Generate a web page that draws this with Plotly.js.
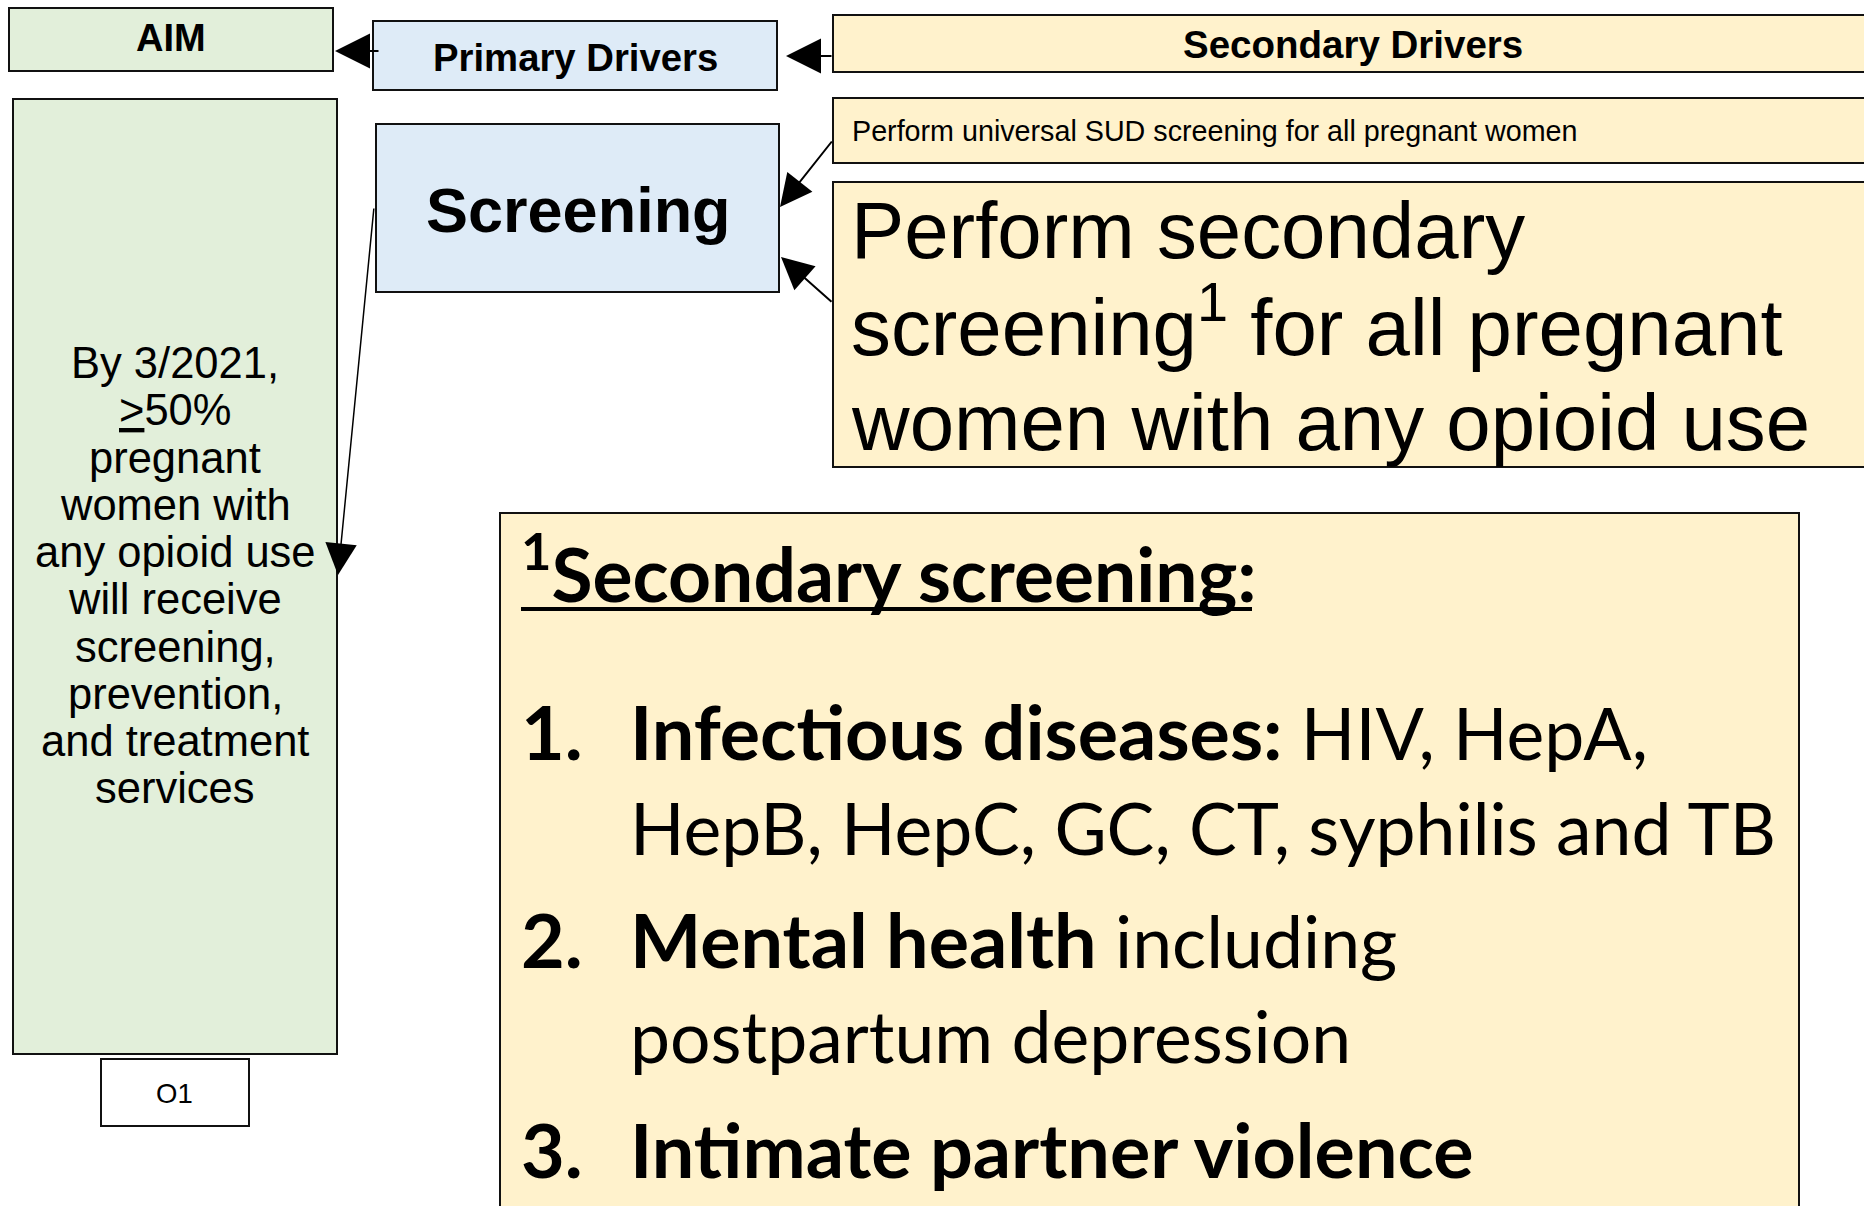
<!DOCTYPE html>
<html>
<head>
<meta charset="utf-8">
<script src="https://cdn.plot.ly/plotly-3.0.1.min.js"></script>
<style>
  html, body { margin: 0; padding: 0; background: #ffffff; }
  #chart { width: 1864px; height: 1206px; }
</style>
</head>
<body>
<div id="chart"></div>
<script>
// ---------- content (text) ----------
const aimTitle = 'AIM';
const primaryTitle = 'Primary Drivers';
const secondaryTitle = 'Secondary Drivers';
const aimLines = ['By 3/2021,', '<u>&gt;</u>50%', 'pregnant', 'women with', 'any opioid use',
                  'will receive', 'screening,', 'prevention,', 'and treatment', 'services'];
const outcomeLabel = 'O1';
const primaryDrivers = ['Screening'];
const secondaryDriver1 = ['Perform universal SUD screening for all pregnant women'];
const secondaryDriver2Lines = ['Perform secondary', 'screening<sup>1</sup> for all pregnant', 'women with any opioid use'];
const footnoteTitle = '<sup>1</sup>Secondary screening:';
const footnoteNumbers = ['1.', '', '2.', '', '3.'];
const footnoteBold = ['Infectious diseases:', '', 'Mental health', '', 'Intimate partner violence'];
const footnoteRegular = [' HIV, HepA,', 'HepB, HepC, GC, CT, syphilis and TB', ' including', 'postpartum depression', ''];

// ---------- styling / geometry ----------
const GREEN = '#E2EFDA', BLUE = '#DEEBF7', YELLOW = '#FFF2CC';
const ARIAL = 'Liberation Sans, Arial, Helvetica, sans-serif';
const CALIBRI = 'Lato, Carlito, Calibri, sans-serif';
const NOTE_REG = 71.5, NOTE_BOLD = 75.5;

const boxGeom = {
  aimHead:  [9, 8, 333, 71, GREEN],
  aimBody:  [13, 99, 337, 1054, GREEN],
  outcome:  [101, 1059, 249, 1126, '#ffffff'],
  primHead: [373, 21, 777, 90, BLUE],
  prim1:    [376, 124, 779, 292, BLUE],
  secHead:  [833, 15, 1900, 72, YELLOW],
  sec1:     [833, 98, 1900, 163, YELLOW],
  sec2:     [833, 182, 1900, 467, YELLOW],
  note:     [500, 513, 1799, 1260, YELLOW]
};

const shapes = Object.values(boxGeom).map(b => ({
  type: 'rect', xref: 'x', yref: 'y', x0: b[0], y0: b[1], x1: b[2], y1: b[3],
  fillcolor: b[4], line: {color: '#111111', width: 2}, layer: 'below'
}));
// underline of footnote title
shapes.push({type: 'line', xref: 'x', yref: 'y', x0: 521, x1: 1252, y0: 609, y1: 609,
             line: {color: '#000000', width: 4}});

const annotations = [];
function txt(text, x, y, size, opts) {
  opts = opts || {};
  annotations.push({
    text: text, x: x, y: y, xref: 'x', yref: 'y', showarrow: false,
    xanchor: opts.xanchor || 'center', yanchor: 'middle', align: opts.xanchor || 'center',
    font: {family: opts.family || ARIAL, size: size, color: '#000000'}
  });
}
function arrow(tx, ty, hx, hy, w, s) {
  annotations.push({
    text: '', x: hx, y: hy, ax: tx, ay: ty, xref: 'x', yref: 'y', axref: 'x', ayref: 'y',
    showarrow: true, arrowhead: 2, arrowsize: s, arrowwidth: w, arrowcolor: '#000000', standoff: 0
  });
}
function boldSpan(t) {
  return '<b><span style="font-size:' + NOTE_BOLD + 'px">' + t + '</span></b>';
}

// headers
txt('<b>' + aimTitle + '</b>', 171, 38, 38);
txt('<b>' + primaryTitle + '</b>', 575, 57, 38.3);
txt('<b>' + secondaryTitle + '</b>', 1353, 44, 38.5);

// aim statement
const aimY0 = 363, aimStep = 47.25;
aimLines.forEach((t, i) => txt(t, 175, aimY0 + i * aimStep, 43.5));
txt(outcomeLabel, 174, 1093, 27.5);

// primary driver
txt('<b>' + primaryDrivers[0] + '</b>', 578, 210, 63);

// secondary drivers
txt(secondaryDriver1[0], 850, 131, 28.7, {xanchor: 'left'});
const sec2Y = [230, 321, 422];
secondaryDriver2Lines.forEach((t, i) => txt(t, 849, sec2Y[i], 79.8, {xanchor: 'left'}));

// footnote
txt('<b>' + footnoteTitle + '</b>', 519, 568, 75, {xanchor: 'left', family: CALIBRI});
const noteY = [730, 827, 938, 1035, 1148];
footnoteRegular.forEach((t, i) => {
  if (footnoteNumbers[i]) txt(boldSpan(footnoteNumbers[i]), 519, noteY[i], NOTE_REG, {xanchor: 'left', family: CALIBRI});
  const s = (footnoteBold[i] ? boldSpan(footnoteBold[i]) : '') + t;
  txt(s, 628, noteY[i], NOTE_REG, {xanchor: 'left', family: CALIBRI});
});

// connectors
arrow(380, 51, 335, 51, 2, 3.5);     // primary header -> aim header
arrow(833, 56, 786, 56, 2, 3.5);     // secondary header -> primary header
arrow(833, 140, 780, 207, 2, 3.2);   // secondary 1 -> screening
arrow(833, 303, 781, 257, 2, 3.2);   // secondary 2 -> screening
arrow(374, 207, 338, 575, 1.5, 4.2); // screening -> aim

const layout = {
  width: 1864, height: 1206,
  margin: {l: 0, r: 0, t: 0, b: 0, pad: 0},
  paper_bgcolor: '#ffffff', plot_bgcolor: '#ffffff',
  showlegend: false,
  xaxis: {range: [0, 1864], visible: false, fixedrange: true},
  yaxis: {range: [1206, 0], visible: false, fixedrange: true},
  shapes: shapes,
  annotations: annotations
};

Plotly.newPlot('chart', [{type: 'scatter', x: [], y: [], hoverinfo: 'skip', showlegend: false}], layout,
  {staticPlot: true, displayModeBar: false});
</script>
</body>
</html>
